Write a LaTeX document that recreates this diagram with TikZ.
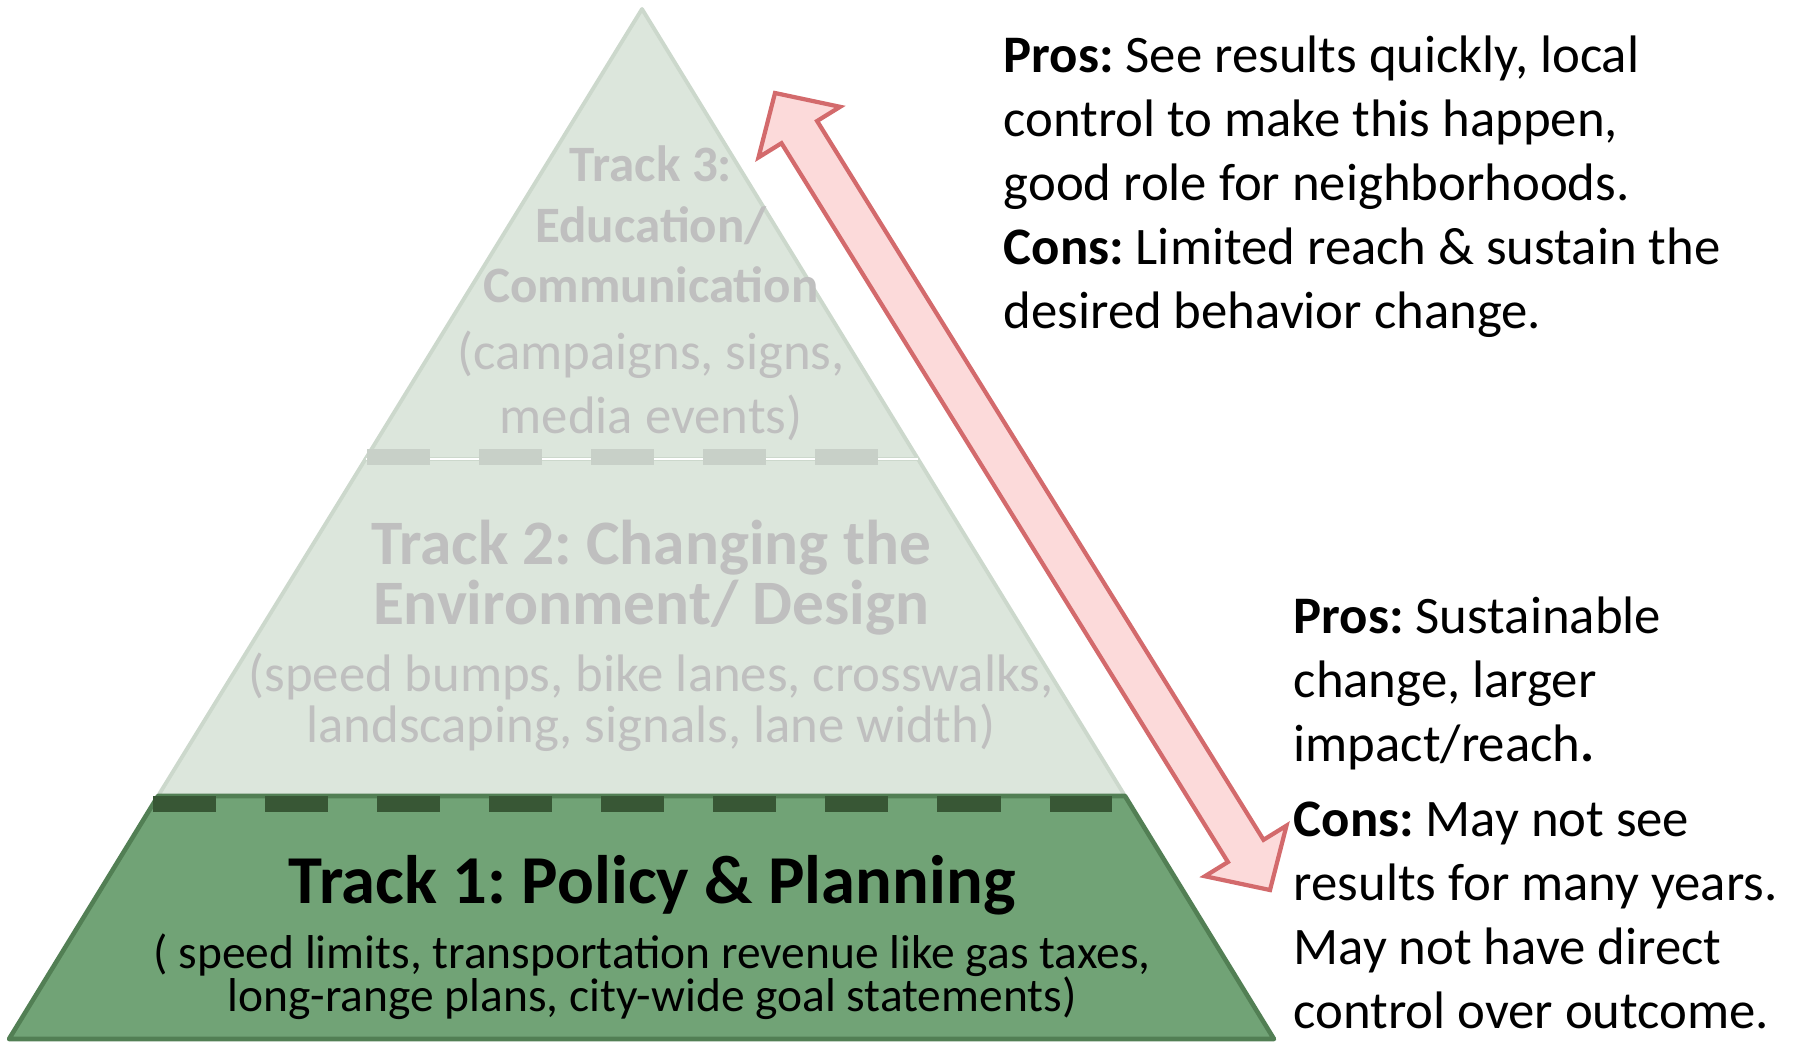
\documentclass[tikz,border=0pt]{standalone}
\usepackage{fontspec}
\setmainfont{Carlito}
\usepackage{xcolor}
\frenchspacing

\definecolor{paleFill}{HTML}{DCE6DC}
\definecolor{paleEdge}{HTML}{CCD8CC}
\definecolor{paleDash}{HTML}{C8D0C8}
\definecolor{paleText}{HTML}{BFBFBF}
\definecolor{baseFill}{HTML}{71A376}
\definecolor{baseEdge}{HTML}{527F54}
\definecolor{baseDash}{HTML}{385735}
\definecolor{arrowFill}{HTML}{FCDADA}
\definecolor{arrowEdge}{HTML}{D36A6C}

\tikzset{
  mid/.style={inner sep=0pt, anchor=base},
  side/.style={inner sep=0pt, anchor=base west, font=\fontsize{15pt}{18pt}\selectfont},
  paletitle/.style={mid, text=paleText, font=\fontsize{14.5pt}{17pt}\selectfont\bfseries},
  palebig/.style={mid, text=paleText, font=\fontsize{18pt}{18pt}\selectfont\bfseries},
  palenote/.style={mid, text=paleText, font=\fontsize{15pt}{15pt}\selectfont},
  basetitle/.style={mid, font=\fontsize{19.5pt}{20pt}\selectfont\bfseries},
  basenote/.style={mid, font=\fontsize{13.5pt}{13.5pt}\selectfont}
}

\begin{document}
\begin{tikzpicture}[x=0.01cm,y=-0.01cm]
\useasboundingbox (0,0) rectangle (1800,1041);

% upper tracks
\draw[paleEdge, fill=paleFill, line width=1.1pt, line join=round] (365.5,459) -- (918,459) -- (1125,796) -- (158,796) -- cycle;
\draw[paleEdge, fill=paleFill, line width=1.1pt, line join=round] (642,9) -- (918,459) -- (365.5,459) -- cycle;
\draw[white, line width=0.6pt] (365.5,459) -- (918,459);
\draw[paleDash, line width=0.16cm, dash pattern=on 0.63cm off 0.49cm] (367,457) -- (878,457);

% track 1
\draw[baseEdge, fill=baseFill, line width=1.3pt, line join=round] (158,796) -- (1125,796) -- (1274,1039) -- (9,1039) -- cycle;
\draw[baseDash, line width=0.16cm, dash pattern=on 0.63cm off 0.49cm] (153,804) -- (1112,804);

% track 3 text
\node[paletitle] (t3a) at (651,181) {Track 3:};
\node[paletitle] (t3b) at (651,242) {Education/};
\node[paletitle] (t3c) at (651,302) {Communication};
\node[palenote] (t3d) at (651,369) {(campaigns, signs,};
\node[palenote] (t3e) at (651,433) {media events)};

% track 2 text
\node[palebig] (t2a) at (651,564) {Track 2: Changing the};
\node[palebig] (t2b) at (651,624) {Environment/ Design};
\node[palenote] (t2c) at (651,691) {(speed bumps, bike lanes, crosswalks,};
\node[palenote] (t2d) at (651,742) {landscaping, signals, lane width)};

% track 1 text
\node[basetitle] (t1a) at (652,903) {Track 1: Policy \& Planning};
\node[basenote] (t1b) at (652,968) {( speed limits, transportation revenue like gas taxes,};
\node[basenote] (t1c) at (652,1011) {long-range plans, city-wide goal statements)};

% double arrow
\draw[arrowEdge, fill=arrowFill, line width=1.2pt, miter limit=10]
  (775,93) -- (840.1,106.8) -- (817.1,121) -- (1263.5,839.8) -- (1286.5,825.6)
  -- (1270,890) -- (1204.9,876.2) -- (1227.9,862) -- (781.5,143.2) -- (758.5,157.4) -- cycle;

% top notes
\node[side] (pa) at (1003,72) {\textbf{Pros:} See results quickly, local};
\node[side] (pb) at (1003,136) {control to make this happen,};
\node[side] (pc) at (1003,200) {good role for neighborhoods.};
\node[side] (pd) at (1003,264) {\textbf{Cons:} Limited reach \& sustain the};
\node[side] (pe) at (1003,328) {desired behavior change.};

% bottom notes
\node[side] (qa) at (1293,633) {\textbf{Pros:} Sustainable};
\node[side] (qb) at (1293,697) {change, larger};
\node[side] (qc) at (1293,761) {impact/reach\textbf{.}};
\node[side] (qd) at (1293,836) {\textbf{Cons:} May not see};
\node[side] (qe) at (1293,900) {results for many years.};
\node[side] (qf) at (1293,964) {May not have direct};
\node[side] (qg) at (1293,1028) {control over outcome.};
\end{tikzpicture}
\end{document}
